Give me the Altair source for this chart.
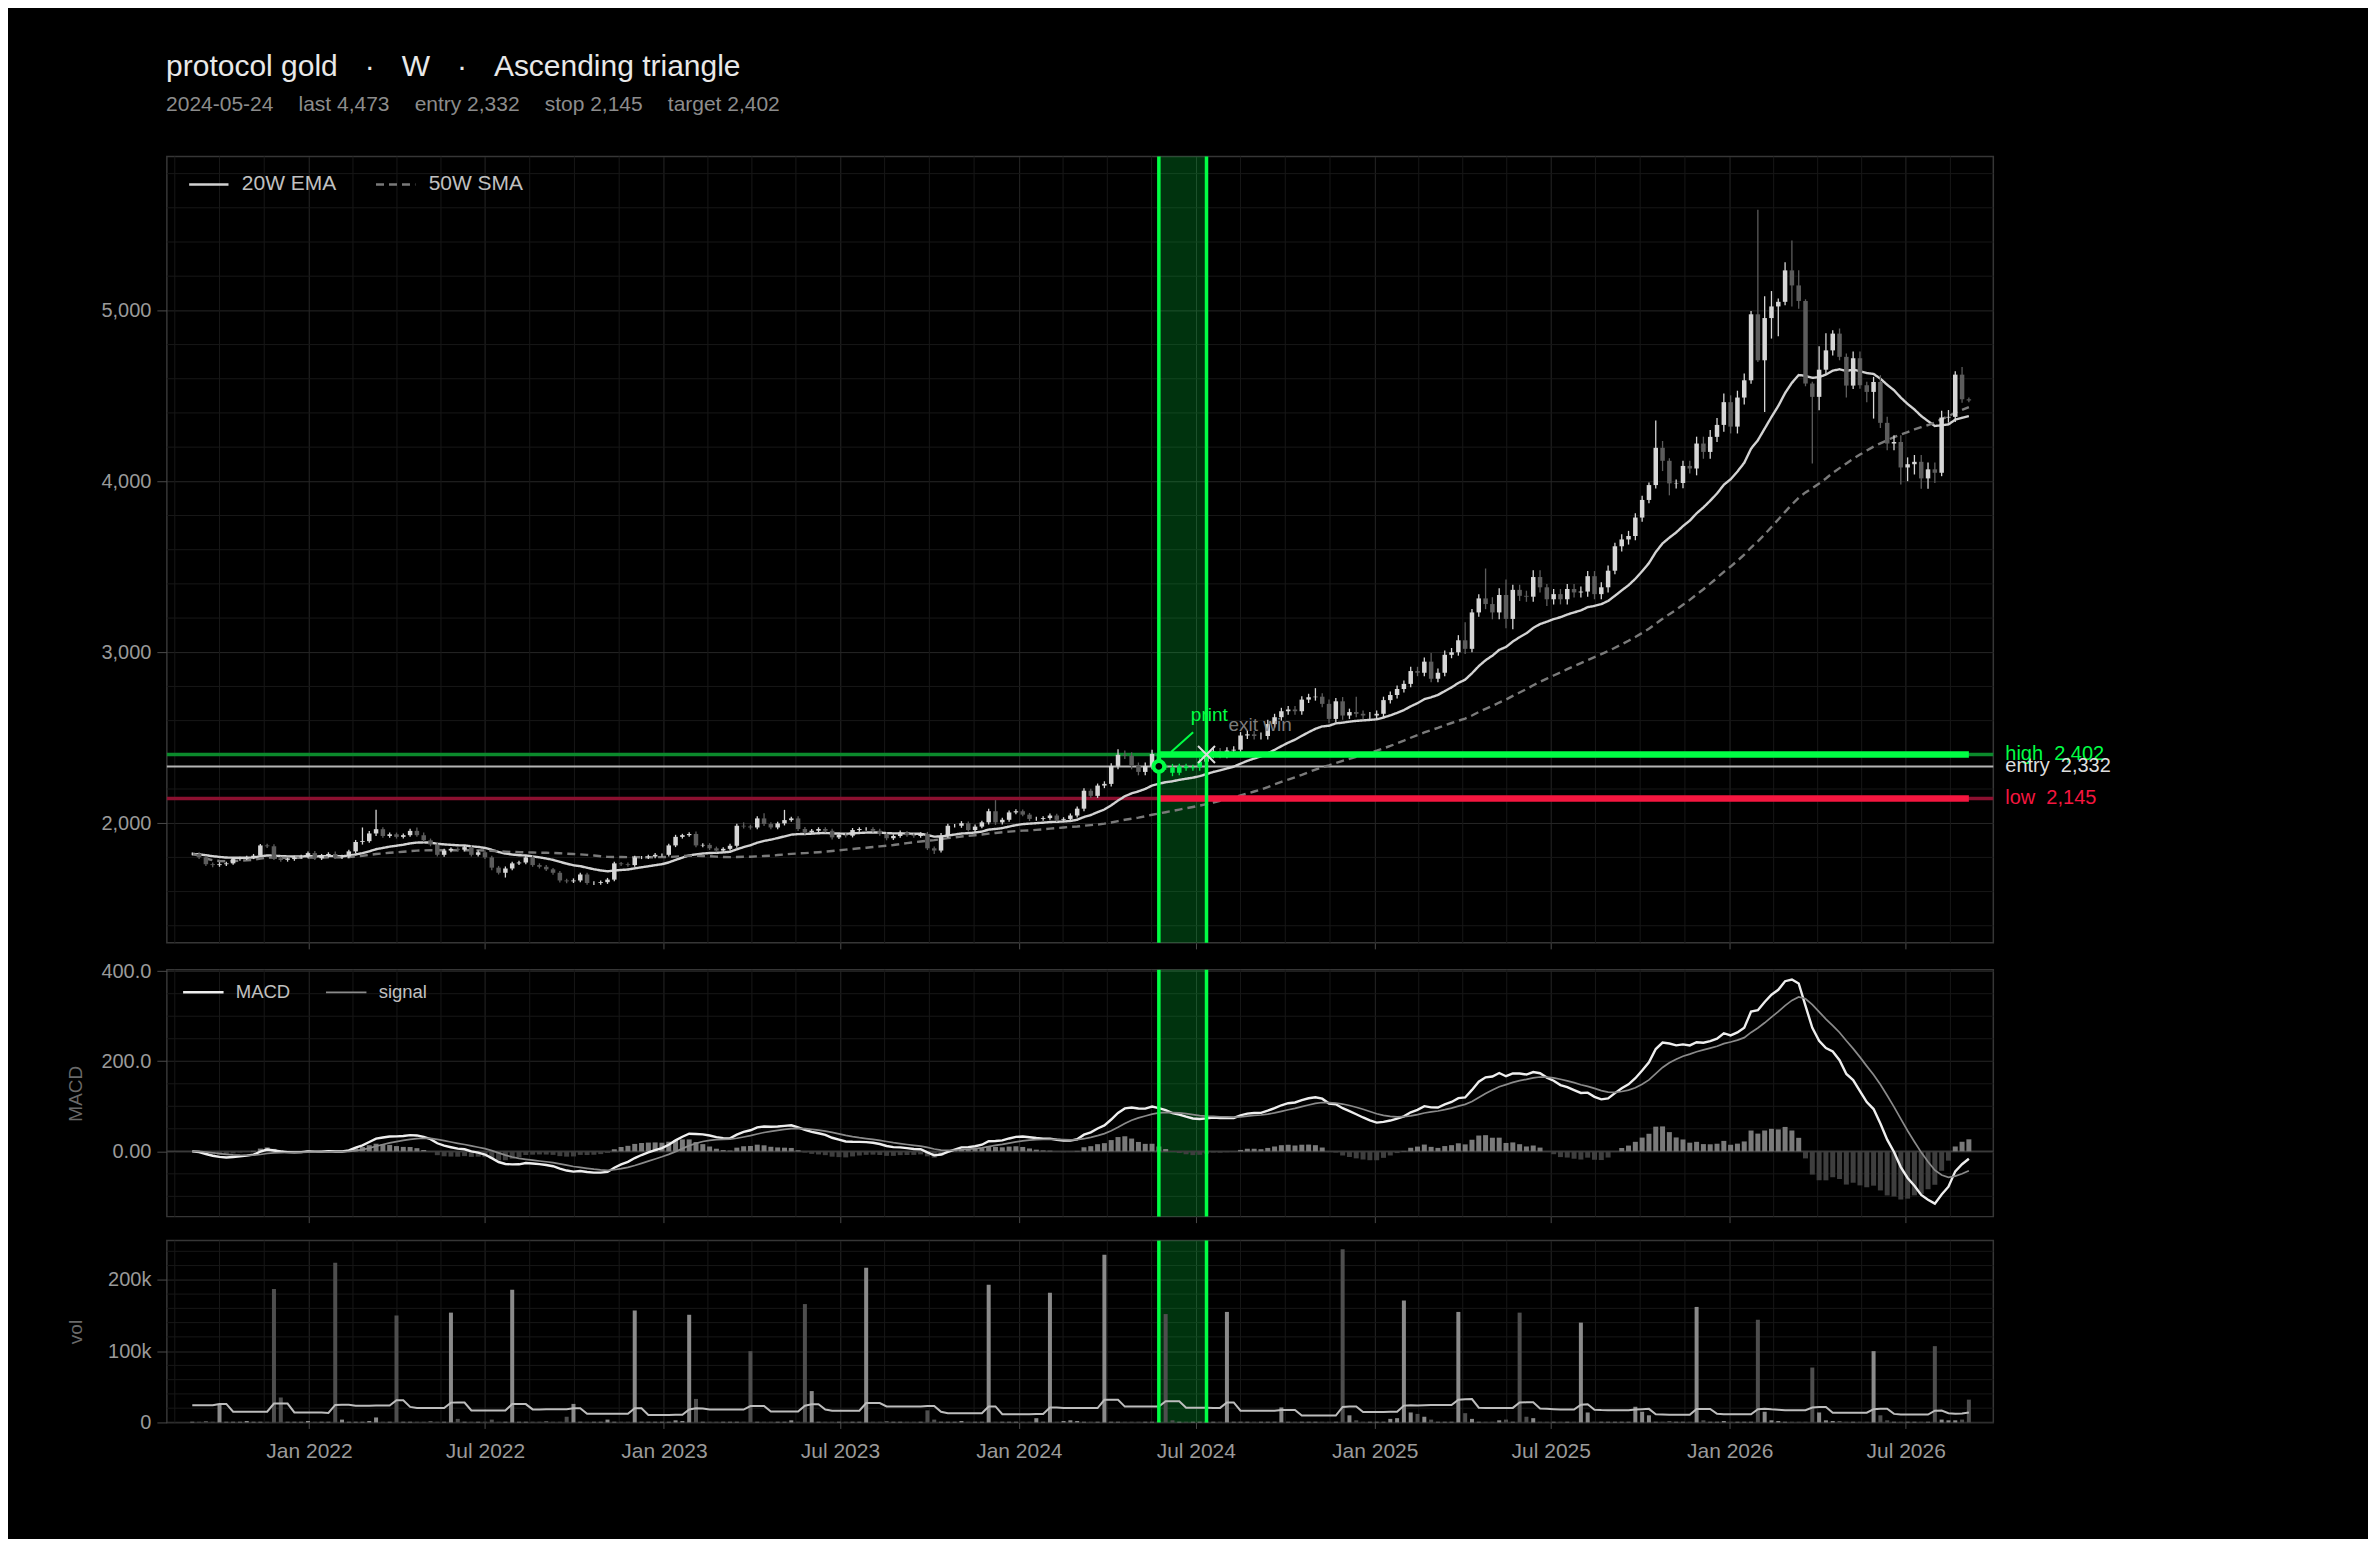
import altair as alt
import numpy as np
import pandas as pd

# ---------------- data ----------------
START = "2021-09-03"          # first weekly bar (Friday)
SIGNAL_IDX = 142              # 2024-05-24
EXIT_IDX = 149                # 2024-07-12
ENTRY, STOP, TARGET = 2332, 2145, 2402

GAP = "\u2002\u2009\u2009"
TITLE = f"protocol gold{GAP}\u00b7{GAP}W{GAP}\u00b7{GAP}Ascending triangle"
SUB_ITEMS = ["2024-05-24", "last 4,473", "entry 2,332", "stop 2,145", "target 2,402"]

closes = [
    1820, 1800, 1760, 1755, 1760, 1765, 1790, 1795, 1800, 1810,
    1870, 1865, 1795, 1785, 1790, 1800, 1805, 1825, 1795, 1810,
    1820, 1800, 1805, 1835, 1890, 1895, 1940, 1965, 1925, 1935,
    1920, 1930, 1955, 1930, 1900, 1875, 1815, 1840, 1850, 1845,
    1860, 1815, 1830, 1800, 1740, 1710, 1735, 1765, 1770, 1800,
    1755, 1745, 1730, 1710, 1665, 1660, 1665, 1700, 1650, 1650,
    1655, 1670, 1765, 1760, 1755, 1800, 1800, 1805, 1815, 1815,
    1870, 1920, 1930, 1937, 1870, 1873, 1853, 1840, 1850, 1868,
    1985, 1981, 1975, 2028, 1995, 1975, 1999, 2018, 2028, 1966,
    1946, 1956, 1966, 1956, 1917, 1931, 1927, 1960, 1966, 1966,
    1956, 1937, 1912, 1925, 1945, 1930, 1925, 1937, 1853, 1840,
    1927, 1985, 1985, 2000, 1960, 1980, 2005, 2070, 2005, 2020,
    2063, 2070, 2050, 2025, 2025, 2030, 2045, 2020, 2025, 2045,
    2085, 2190, 2160, 2220, 2230, 2335, 2400, 2395, 2335, 2300,
    2335, 2405, 2332, 2327, 2295, 2333, 2322, 2327, 2360, 2400,
    2420, 2400, 2425, 2430, 2513, 2520, 2510, 2510, 2580, 2620,
    2655, 2665, 2655, 2723, 2737, 2740, 2698, 2610, 2713, 2630,
    2650, 2640, 2630, 2630, 2640, 2720, 2750, 2785, 2815, 2890,
    2880, 2945, 2845, 2880, 2985, 3000, 3070, 3020, 3233, 3315,
    3282, 3233, 3335, 3195, 3365, 3330, 3325, 3440, 3380, 3310,
    3340, 3310, 3370, 3350, 3355, 3445, 3340, 3380, 3477, 3620,
    3660, 3680, 3788, 3891, 3978, 4196, 4120, 3988, 3990, 4090,
    4075, 4221, 4172, 4260, 4330, 4463, 4320, 4490, 4591, 4977,
    4708, 4955, 5023, 5050, 5234, 5146, 5055, 4572, 4494, 4653,
    4766, 4864, 4728, 4560, 4720, 4562, 4523, 4581, 4342, 4221,
    4230, 4081, 4100, 4114, 4017, 4070, 4050, 4373, 4377, 4624,
    4480, 4473,
]

# upper / lower wick length beyond the body (price units)
wick_up = [
    8, 10, 10, 10, 12, 10, 10, 8, 10, 10,
    8, 10, 12, 10, 8, 10, 10, 10, 12, 10,
    10, 15, 10, 10, 12, 80, 15, 113, 12, 10,
    10, 10, 12, 20, 15, 10, 10, 10, 8, 10,
    12, 10, 10, 10, 10, 10, 12, 10, 10, 10,
    12, 10, 10, 8, 10, 10, 12, 10, 10, 10,
    10, 10, 10, 8, 10, 10, 8, 10, 10, 8,
    10, 12, 8, 10, 15, 10, 10, 10, 10, 12,
    12, 20, 10, 12, 30, 10, 10, 60, 10, 12,
    12, 10, 10, 10, 12, 10, 10, 12, 10, 10,
    10, 12, 10, 10, 12, 10, 10, 10, 12, 10,
    15, 12, 10, 12, 10, 12, 10, 15, 65, 12,
    12, 12, 10, 10, 12, 10, 12, 10, 10, 12,
    12, 15, 12, 12, 15, 15, 33, 25, 20, 20,
    20, 25, 20, 15, 20, 15, 15, 15, 20, 20,
    20, 20, 20, 20, 20, 20, 20, 20, 25, 20,
    20, 20, 20, 20, 20, 50, 20, 25, 20, 25,
    20, 90, 20, 20, 20, 20, 20, 20, 20, 25,
    25, 25, 50, 25, 25, 25, 30, 105, 20, 25,
    175, 40, 40, 90, 30, 30, 30, 40, 40, 20,
    30, 30, 30, 30, 30, 30, 30, 30, 30, 20,
    30, 30, 25, 25, 15, 160, 40, 15, 20, 30,
    30, 40, 40, 40, 40, 50, 40, 40, 40, 20,
    611, 127, 90, 20, 48, 175, 88, 10, 10, 137,
    100, 20, 30, 20, 40, 40, 20, 30, 40, 35,
    40, 40, 40, 40, 40, 40, 40, 40, 40, 20,
    45, 10,
]
wick_dn = [
    8, 10, 10, 12, 10, 10, 8, 10, 10, 10,
    8, 10, 10, 10, 10, 10, 8, 10, 10, 10,
    10, 10, 10, 10, 10, 15, 10, 15, 10, 10,
    10, 10, 10, 10, 10, 10, 10, 12, 10, 10,
    10, 10, 10, 10, 15, 10, 28, 10, 10, 10,
    10, 10, 10, 12, 12, 12, 10, 10, 10, 12,
    10, 10, 10, 10, 10, 10, 10, 10, 10, 10,
    10, 10, 10, 10, 10, 10, 10, 10, 10, 10,
    12, 12, 12, 10, 12, 10, 10, 12, 10, 12,
    12, 10, 10, 10, 12, 10, 10, 10, 10, 10,
    10, 10, 12, 10, 10, 10, 10, 10, 10, 20,
    12, 12, 10, 12, 10, 12, 10, 12, 15, 12,
    12, 10, 10, 12, 10, 10, 10, 12, 10, 10,
    12, 15, 12, 12, 15, 15, 20, 20, 20, 20,
    20, 20, 20, 15, 20, 15, 15, 15, 20, 20,
    20, 20, 20, 20, 20, 20, 20, 20, 20, 20,
    20, 20, 20, 20, 20, 20, 20, 25, 20, 25,
    20, 20, 20, 20, 20, 20, 20, 20, 20, 20,
    20, 20, 20, 20, 20, 20, 20, 30, 20, 25,
    30, 40, 40, 55, 60, 30, 30, 30, 30, 40,
    30, 30, 30, 30, 30, 30, 30, 30, 30, 20,
    30, 30, 25, 25, 20, 20, 60, 70, 30, 30,
    30, 40, 40, 40, 30, 40, 40, 40, 40, 20,
    10, 302, 120, 175, 20, 123, 45, 16, 390, 78,
    30, 30, 20, 70, 20, 20, 60, 156, 30, 40,
    40, 100, 80, 60, 60, 60, 60, 20, 30, 30,
    20, 10,
]

# weekly volume, thousands
vol_k = [
    1, 1, 2, 1, 26, 1, 1, 1, 2, 1,
    1, 1, 187, 35, 1, 1, 1, 2, 1, 1,
    1, 224, 4, 1, 1, 1, 2, 7, 1, 1,
    150, 1, 1, 1, 1, 2, 1, 1, 154, 5,
    1, 1, 1, 1, 4, 1, 1, 186, 1, 1,
    1, 1, 2, 1, 1, 8, 26, 1, 1, 1,
    1, 4, 1, 1, 1, 157, 1, 1, 1, 1,
    1, 3, 2, 151, 33, 1, 1, 1, 1, 1,
    1, 1, 100, 1, 1, 1, 1, 1, 3, 1,
    166, 44, 1, 1, 1, 1, 1, 1, 1, 217,
    1, 1, 2, 1, 1, 1, 1, 1, 17, 4,
    1, 1, 1, 2, 1, 1, 1, 193, 1, 1,
    1, 1, 1, 1, 6, 1, 182, 1, 2, 3,
    2, 1, 1, 1, 235, 1, 1, 1, 1, 1,
    1, 1, 2, 152, 3, 1, 1, 1, 1, 1,
    1, 1, 155, 1, 1, 1, 1, 1, 1, 1,
    21, 1, 1, 1, 1, 1, 1, 1, 1, 243,
    10, 3, 1, 1, 1, 1, 5, 6, 171, 14,
    12, 8, 4, 1, 1, 1, 155, 13, 5, 1,
    1, 1, 3, 4, 1, 154, 8, 6, 1, 1,
    1, 1, 1, 1, 140, 14, 1, 1, 1, 1,
    1, 1, 22, 15, 10, 1, 1, 2, 1, 1,
    1, 162, 3, 1, 1, 2, 1, 1, 1, 1,
    144, 15, 3, 2, 1, 1, 1, 1, 77, 14,
    3, 2, 2, 1, 1, 1, 1, 100, 10, 3,
    1, 1, 1, 1, 1, 1, 107, 4, 3, 3,
    4, 32,
]
# 20-week volume average for the first 20 weeks (history before the window), thousands
vol_ma_head_k = [24, 24, 24, 24, 26, 26, 15, 15, 15, 15,
                 15, 15, 26.5, 26.5, 26.5, 14, 14, 14, 14, 14]

# ---------------- style ----------------
FONT = "Liberation Sans"
BG = "#000000"
GRID_MAJ = "#262626"
GRID_MIN = "#171717"
BORDER = "#363636"
AXLAB = "#9a9a9a"
GREEN = "#00ff44"
RED = "#f5163f"
W, H1, H2, H3 = 1828, 787, 247, 182

# ---------------- derived tables ----------------
n = len(closes)
dates = pd.date_range(START, periods=n, freq="7D")
c = np.array(closes, dtype=float)
o = np.concatenate([[c[0]], c[:-1]])
hi = np.maximum(o, c) + np.array(wick_up, dtype=float)
lo = np.minimum(o, c) - np.array(wick_dn, dtype=float)
rising = c >= o
candle_col = np.where(rising, "#d6d6d6", "#5c5c5c").astype(object)
candle_col[SIGNAL_IDX:EXIT_IDX] = "#00ee48"

vol = np.array(vol_k, dtype=float) * 1000
vol_ma = pd.Series(vol).rolling(20).mean().to_numpy()
vol_ma[:len(vol_ma_head_k)] = np.array(vol_ma_head_k) * 1000
vol_col = np.where(rising, "#8a8a8a", "#4e4e4e")

cs = pd.Series(c)
ema20 = cs.ewm(span=20, adjust=False).mean()
sma50 = cs.rolling(50, min_periods=1).mean()
macd = cs.ewm(span=12, adjust=False).mean() - cs.ewm(span=26, adjust=False).mean()
signal = macd.ewm(span=9, adjust=False).mean()
hist = macd - signal

df = pd.DataFrame({
    "date": dates, "o": o, "c": c, "hi": hi, "lo": lo, "col": candle_col,
    "vol": vol, "vcol": vol_col, "vma": vol_ma,
    "hist": hist, "hcol": np.where(hist >= 0, "#7a7a7a", "#3e3e3e"),
})
df_ma = pd.concat([
    pd.DataFrame({"date": dates, "val": ema20, "series": "20W EMA"}),
    pd.DataFrame({"date": dates, "val": sma50, "series": "50W SMA"}),
])
df_macd = pd.concat([
    pd.DataFrame({"date": dates, "val": macd, "series": "MACD"}),
    pd.DataFrame({"date": dates, "val": signal, "series": "signal"}),
])

x_lo, x_hi = pd.Timestamp("2021-08-13"), pd.Timestamp("2026-09-24")
majors = pd.to_datetime([f"{y}-{m:02d}-01" for y in range(2021, 2027) for m in (1, 7)] + ["2027-01-01"])
minor_dates = []
for a, b in zip(majors[:-1], majors[1:]):
    for k in (1, 2, 3):
        t = a + (b - a) * k / 4
        if x_lo < t < x_hi:
            minor_dates.append(t)
df_vgrid = pd.DataFrame({"g": minor_dates})

df_band = pd.DataFrame({"s": [dates[SIGNAL_IDX]], "e": [dates[EXIT_IDX]]})
df_edges = pd.DataFrame({"g": [dates[SIGNAL_IDX], dates[EXIT_IDX]]})
df_sig = pd.DataFrame({"date": [dates[SIGNAL_IDX]], "p": [ENTRY]})
df_exit = pd.DataFrame({"date": [dates[EXIT_IDX]], "p": [TARGET]})
df_thin = pd.DataFrame({"p": [TARGET, ENTRY, STOP],
                        "col": ["#0b8a2c", "#b4b4b4", "#8c1030"],
                        "w": [3.5, 2.0, 3.5]})
df_thick = pd.DataFrame({"s": [dates[SIGNAL_IDX]] * 2, "e": [dates[-1]] * 2,
                         "p": [TARGET, STOP], "col": [GREEN, RED]})
df_rlab = pd.DataFrame({"p": [TARGET, ENTRY, STOP],
                        "t": ["high\u00a0\u00a02,402", "entry\u00a0\u00a02,332", "low\u00a0\u00a02,145"],
                        "col": [GREEN, "#dddddd", RED]})

# ---------------- scales & axes ----------------
xs = alt.Scale(domain=[alt.DateTime(year=2021, month=8, date=13),
                       alt.DateTime(year=2026, month=9, date=24)])
major_vals = [alt.DateTime(year=y, month=m, date=1) for y in range(2022, 2027) for m in (1, 7)]


def xaxis(show):
    return alt.Axis(values=major_vals, format="%b %Y", labels=show, title=None,
                    grid=True, gridColor=GRID_MAJ, gridWidth=1, ticks=True,
                    tickColor="#4a4a4a", tickSize=6, domain=False,
                    labelColor=AXLAB, labelFont=FONT, labelFontSize=21, labelPadding=12)


def yaxis(values, fmt=None, expr=None, title=None, h=100):
    kw = dict(values=values, grid=True, gridColor=GRID_MAJ, gridWidth=1,
              tickColor="#4a4a4a", tickSize=10, labelPadding=6, domain=False,
              labelColor=AXLAB, labelFont=FONT, labelFontSize=20)
    if fmt:
        kw["format"] = fmt
    if expr:
        kw["labelExpr"] = expr
    if title:
        kw.update(title=title, titleColor="#6a6a6a", titleFont=FONT, titleFontSize=19,
                  titleFontWeight="normal", titleX=-91, titleY=h / 2, titleAngle=270,
                  titleAlign="center", titleBaseline="middle")
    else:
        kw["title"] = None
    return alt.Axis(**kw)


ys1 = alt.Scale(domain=[1300, 5900], nice=False, zero=False)
ys2 = alt.Scale(domain=[-145, 403], nice=False, zero=False)
ys3 = alt.Scale(domain=[0, 255000], nice=False)
ya1 = yaxis([2000, 3000, 4000, 5000], fmt=",d")
ya2 = yaxis([0, 200, 400], expr="datum.value == 0 ? '0.00' : format(datum.value, '.1f')",
            title="MACD", h=H2)
ya3 = yaxis([0, 100000, 200000],
            expr="datum.value == 0 ? '0' : format(datum.value / 1000, 'd') + 'k'",
            title="vol", h=H3)


def X(field, show=False):
    return alt.X(field, scale=xs, axis=xaxis(show))


def common_layers(ys, ya, hgrid_vals, show):
    hg = alt.Chart(pd.DataFrame({"g": hgrid_vals})).mark_rule(color=GRID_MIN, strokeWidth=1).encode(
        y=alt.Y("g:Q", scale=ys, axis=ya))
    vg = alt.Chart(df_vgrid).mark_rule(color=GRID_MIN, strokeWidth=1).encode(x=X("g:T", show))
    band = alt.Chart(df_band).mark_rect(color=GREEN, opacity=0.2).encode(x=X("s:T", show), x2="e:T")
    return [hg, vg, band]


def band_edges(show):
    return alt.Chart(df_edges).mark_rule(color=GREEN, strokeWidth=3.5).encode(x=X("g:T", show))


# ---------------- main price panel ----------------
minor_price = [v for v in range(1400, 5900, 200) if v % 1000 != 0]
base = alt.Chart(df)
thin = alt.Chart(df_thin).mark_rule().encode(
    y=alt.Y("p:Q", scale=ys1, axis=ya1),
    color=alt.Color("col:N", scale=None),
    strokeWidth=alt.StrokeWidth("w:Q", scale=None))
ma_dom = ["20W EMA", "50W SMA"]
ma_leg = alt.Legend(title=None, orient="none", legendX=21, legendY=7, direction="horizontal",
                    symbolType="stroke", symbolSize=1550, symbolStrokeWidth=2.5,
                    labelColor="#c0c0c0", labelFont=FONT, labelFontSize=21, labelOffset=12,
                    columnPadding=34, padding=0)
ma_lines = alt.Chart(df_ma).mark_line(strokeWidth=2.4).encode(
    x=X("date:T"), y=alt.Y("val:Q", scale=ys1, axis=ya1),
    color=alt.Color("series:N", scale=alt.Scale(domain=ma_dom, range=["#d2d2d2", "#7a7a7a"]), legend=ma_leg),
    strokeDash=alt.StrokeDash("series:N", scale=alt.Scale(domain=ma_dom, range=[[1, 0], [8, 5]]), legend=ma_leg),
    detail="series:N")
wicks = base.mark_rule(strokeWidth=1.3).encode(
    x=X("date:T"), y=alt.Y("lo:Q", scale=ys1, axis=ya1), y2="hi:Q",
    color=alt.Color("col:N", scale=None))
bodies = base.mark_bar(size=4.5).encode(
    x=X("date:T"), y=alt.Y("o:Q", scale=ys1, axis=ya1), y2="c:Q",
    color=alt.Color("col:N", scale=None))
thick = alt.Chart(df_thick).mark_rule(strokeWidth=6.5).encode(
    x=X("s:T"), x2="e:T", y=alt.Y("p:Q", scale=ys1, axis=ya1),
    color=alt.Color("col:N", scale=None))
sig_y = alt.Y("p:Q", scale=ys1, axis=ya1)
leader = alt.Chart(df_sig).mark_point(shape="M0.35,-0.41L0.98,-0.98", size=4900, filled=False,
                                      stroke=GREEN, strokeWidth=2, opacity=1).encode(x=X("date:T"), y=sig_y)
circle = alt.Chart(df_sig).mark_point(shape="circle", size=115, filled=True, fill="#000000",
                                      stroke=GREEN, strokeWidth=4, opacity=1).encode(x=X("date:T"), y=sig_y)
print_txt = alt.Chart(df_sig).mark_text(text="print", align="left", baseline="alphabetic", dx=32, dy=-45,
                                        color=GREEN, font=FONT, fontSize=19).encode(x=X("date:T"), y=sig_y)
xmark = alt.Chart(df_exit).mark_point(shape="M-1,-1L1,1M-1,1L1,-1", size=289, filled=False,
                                      stroke="#dddddd", strokeWidth=2, opacity=1).encode(x=X("date:T"), y=sig_y)
exit_txt = alt.Chart(df_exit).mark_text(text="exit win", align="left", baseline="alphabetic", dx=22, dy=-23,
                                        color="#8a8a8a", opacity=0.9, font=FONT, fontSize=19).encode(
    x=X("date:T"), y=sig_y)
rlab = alt.Chart(df_rlab).mark_text(align="left", baseline="middle", font=FONT, fontSize=20).encode(
    x=alt.value(W + 12), y=alt.Y("p:Q", scale=ys1, axis=ya1), text="t:N",
    color=alt.Color("col:N", scale=None))

main = alt.layer(*common_layers(ys1, ya1, minor_price, False), thin, ma_lines, wicks, bodies, thick,
                 band_edges(False), leader, circle, print_txt, xmark, exit_txt, rlab
                 ).properties(width=W, height=H1)

# ---------------- MACD panel ----------------
macd_dom = ["MACD", "signal"]
macd_leg = alt.Legend(title=None, orient="none", legendX=15, legendY=1, direction="horizontal",
                      symbolType="stroke", symbolSize=1640, symbolStrokeWidth=2,
                      labelColor="#c0c0c0", labelFont=FONT, labelFontSize=18.5, labelOffset=11,
                      columnPadding=31, padding=0)
hbars = base.mark_bar(size=5).encode(
    x=X("date:T"), y=alt.Y("hist:Q", scale=ys2, axis=ya2), y2=alt.datum(0),
    color=alt.Color("hcol:N", scale=None))
zero = alt.Chart(pd.DataFrame({"z": [0]})).mark_rule(color="#3a3a3a", strokeWidth=1.5).encode(
    y=alt.Y("z:Q", scale=ys2, axis=ya2))
mlines = alt.Chart(df_macd).mark_line().encode(
    x=X("date:T"), y=alt.Y("val:Q", scale=ys2, axis=ya2),
    color=alt.Color("series:N", scale=alt.Scale(domain=macd_dom, range=["#eeeeee", "#8a8a8a"]), legend=macd_leg),
    strokeWidth=alt.StrokeWidth("series:N", scale=alt.Scale(domain=macd_dom, range=[2.4, 1.7]), legend=macd_leg),
    detail="series:N")
macd_minor = [-100, -50, 50, 100, 150, 250, 300, 350]
macd_panel = alt.layer(*common_layers(ys2, ya2, macd_minor, False), zero, hbars, mlines,
                       band_edges(False)).properties(width=W, height=H2)

# ---------------- volume panel ----------------
vol_minor = [v for v in range(20000, 255000, 20000) if v % 100000 != 0]
vbars = base.mark_bar(size=4).encode(
    x=X("date:T", True), y=alt.Y("vol:Q", scale=ys3, axis=ya3, stack=None),
    color=alt.Color("vcol:N", scale=None))
vline = base.mark_line(color="#bdbdbd", strokeWidth=2).encode(
    x=X("date:T", True), y=alt.Y("vma:Q", scale=ys3, axis=ya3))
vol_panel = alt.layer(*common_layers(ys3, ya3, vol_minor, True), vbars, vline,
                      band_edges(True)).properties(width=W, height=H3)

lower = alt.vconcat(macd_panel, vol_panel, spacing=13)
chart = alt.vconcat(main, lower, spacing=9).resolve_scale(
    y="independent", color="independent", strokeDash="independent", strokeWidth="independent"
).properties(
    title=alt.TitleParams(text=TITLE, subtitle="\u2003\u2009".join(SUB_ITEMS), anchor="start",
                          font=FONT, fontSize=30, fontWeight="normal", color="#e8e8e8",
                          subtitleFont=FONT, subtitleFontSize=21, subtitleColor="#8c8c8c",
                          subtitlePadding=12, offset=39, dx=100),
    padding={"left": 58, "top": 43, "right": 256, "bottom": 76},
    background=BG,
).configure_view(stroke=BORDER, strokeWidth=1.5, fill=BG)

chart.save("out.html", embed_options={"renderer": "svg", "actions": False})
